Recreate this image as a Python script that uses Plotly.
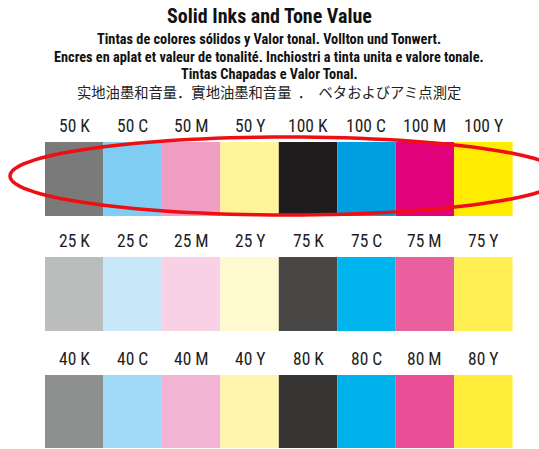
import numpy as np
import plotly.graph_objects as go

# ---- data ----
inks = ["K", "C", "M", "Y", "K", "C", "M", "Y"]
tones_row1 = [50, 50, 50, 50, 100, 100, 100, 100]
tones_row2 = [25, 25, 25, 25, 75, 75, 75, 75]
tones_row3 = [40, 40, 40, 40, 80, 80, 80, 80]

colors_row1 = ["#7a7a7a", "#80cdf3", "#f09dc4", "#fff497", "#1e1c1d", "#009fe1", "#e1017b", "#ffec00"]
colors_row2 = ["#bbbcbc", "#c8e8fa", "#f8d1e5", "#fff9d0", "#484746", "#00b5ed", "#ea5f9e", "#ffef52"]
colors_row3 = ["#8e8f8f", "#a1daf6", "#f2b4d4", "#fff5ab", "#383635", "#00b2ec", "#e94e97", "#ffed3b"]

title = "Solid Inks and Tone Value"
subtitle_lines = [
    "Tintas de colores sólidos y Valor tonal. Vollton und Tonwert.",
    "Encres en aplat et valeur de tonalité. Inchiostri a tinta unita e valore tonale.",
    "Tintas Chapadas e Valor Tonal.",
]
cjk_line = "实地油墨和音量．實地油墨和音量\u00a0\u00a0．\u00a0\u00a0ベタおよびアミ点測定"

# ---- layout helpers (pixel geometry of the 539x449 canvas) ----
W, H = 539, 449
LEFT_PX, COL_PX = 45.0, 58.45


def px2x(px):
    return (px - LEFT_PX) / COL_PX - 0.5


cols = list(range(len(inks)))
rows = [
    (tones_row1, colors_row1, 126, 142, 74),
    (tones_row2, colors_row2, 241, 257, 74),
    (tones_row3, colors_row3, 359, 375, 73),
]

NARROW = "Roboto Condensed, Liberation Sans Narrow, Roboto, sans-serif"

fig = go.Figure()
annotations = []
for tones, colors, label_y, top, height in rows:
    fig.add_trace(go.Bar(
        x=cols, y=[height] * len(cols), base=[top] * len(cols),
        width=1.0, marker=dict(color=colors, line=dict(width=0)),
        hoverinfo="skip", showlegend=False,
    ))
    for c, t, ink in zip(cols, tones, inks):
        annotations.append(dict(
            x=c, y=label_y, xref="x", yref="y", text=f"{t} {ink}",
            showarrow=False, xanchor="center", yanchor="middle",
            font=dict(family=NARROW, size=17.5, color="#1e1e1e"),
        ))

CX = px2x(269)
annotations.append(dict(x=CX, y=16, xref="x", yref="y", text=f"<b>{title}</b>",
                        showarrow=False, xanchor="center", yanchor="middle",
                        font=dict(family=NARROW, size=20, color="#111111")))
for yy, line in zip([39, 57, 74], subtitle_lines):
    annotations.append(dict(x=CX, y=yy, xref="x", yref="y", text=f"<b>{line}</b>",
                            showarrow=False, xanchor="center", yanchor="middle",
                            font=dict(family=NARROW, size=14.3, color="#111111")))
annotations.append(dict(x=CX, y=91, xref="x", yref="y", text=cjk_line,
                        showarrow=False, xanchor="center", yanchor="middle",
                        font=dict(family="Noto Sans CJK JP, Noto Sans CJK SC, sans-serif",
                                  size=14.3, color="#222222")))

# red ellipse highlighting the first row
t = np.linspace(0, 2 * np.pi, 121)
ecx, ecy, ea, eb = 287.0, 176.0, 277.0, 39.0
ex = ecx + ea * np.cos(t)
ey = ecy + eb * np.sin(t)
path = "M " + " L ".join(f"{px2x(a):.4f},{b:.2f}" for a, b in zip(ex, ey)) + " Z"

fig.update_layout(
    width=W, height=H,
    margin=dict(l=0, r=0, t=0, b=0),
    paper_bgcolor="white", plot_bgcolor="white",
    barmode="overlay",
    xaxis=dict(range=[px2x(0), px2x(W)], visible=False, fixedrange=True),
    yaxis=dict(range=[H, 0], visible=False, fixedrange=True),
    annotations=annotations,
    shapes=[dict(type="path", path=path, xref="x", yref="y",
                 line=dict(color="#ee0f14", width=3.5), layer="above")],
)

fig.write_html("out.html", config={"displayModeBar": False},
               post_script="document.body.style.margin='0';document.body.style.overflow='hidden';")
